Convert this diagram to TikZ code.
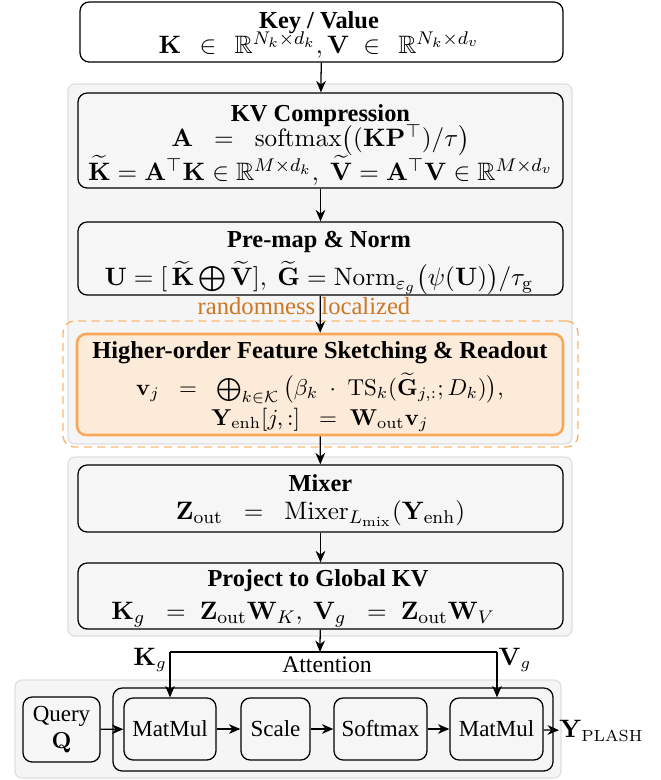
\documentclass[tikz,border=0pt]{standalone}
\usepackage{amsmath,amssymb}
\usepackage[no-math]{fontspec}
\setmainfont{Liberation Serif}
\usetikzlibrary{arrows.meta}
\definecolor{grpfill}{RGB}{245,245,245}
\definecolor{grpdraw}{RGB}{222,222,222}
\definecolor{boxfill}{RGB}{246,246,246}
\definecolor{orfill}{RGB}{253,235,217}
\definecolor{ordraw}{RGB}{249,168,88}
\definecolor{ordash}{RGB}{250,182,115}
\definecolor{ortext}{RGB}{204,119,34}
\newcommand{\ttlfont}{\fontsize{10.6}{12}\selectfont\bfseries}
\begin{document}
\begin{tikzpicture}[x=0.4348pt,y=-0.4348pt,
  wh/.style 2 args={minimum width=#1*0.4348pt,minimum height=#2*0.4348pt},
  grp/.style={draw=grpdraw,fill=grpfill,rounded corners=3pt,line width=0.5pt,inner sep=0pt},
  blk/.style={draw=black,fill=boxfill,rounded corners=4pt,line width=0.55pt,inner sep=0pt,align=center,font=\fontsize{10}{12}\selectfont},
  mblk/.style={blk,font=\fontsize{10.95}{12}\selectfont},
  hot/.style={blk,draw=ordraw,fill=orfill,line width=1.1pt},
  arr/.style={line width=0.55pt,-{Stealth[length=5pt,width=4.2pt,inset=1.6pt]}}
]
\useasboundingbox (0,0) rectangle (660,780);
% groups
\node[grp,wh={504}{360}] (g1) at (320,264) {};
\node[grp,wh={504}{179}] (g2) at (320,546.5) {};
\node[grp,wh={546}{98}] (g3) at (288,729) {};
\node[draw=ordash,dash pattern=on 3.5pt off 2.3pt,line width=0.6pt,rounded corners=5pt,wh={515}{126},inner sep=0pt] (zone) at (320.5,384) {};
% main blocks
\node[blk,fill=white,wh={483}{60}] (kv) at (321.5,32) {};
\node[mblk,fill=none,draw=none,inner sep=0pt] (kvt) at (319,35) {{\ttlfont Key / Value}\\[-1pt] $\mathbf{K}\,\;\in\;\,\mathbb{R}^{N_k\times d_k},\mathbf{V}\;\in\;\,\mathbb{R}^{N_k\times d_v}$};
\node[blk,wh={485}{95}] (comp) at (320.5,140.5) {};
\node[mblk,fill=none,draw=none] (compt) at (320.5,145) {{\ttlfont KV Compression}\\[-1pt] $\mathbf{A}\;\;=\;\;\mathrm{softmax}\big((\mathbf{K}\mathbf{P}^{\top})/\tau\big)$\\[-1pt] $\widetilde{\mathbf{K}}=\mathbf{A}^{\top}\mathbf{K}\in\mathbb{R}^{M\times d_k},\;\widetilde{\mathbf{V}}=\mathbf{A}^{\top}\mathbf{V}\in\mathbb{R}^{M\times d_v}$};
\node[blk,wh={485}{73}] (pre) at (320.5,258.5) {};
\node[mblk,fill=none,draw=none] (pret) at (319,263) {{\ttlfont Pre-map \& Norm}\\[2.5pt] $\mathbf{U}=[\,\widetilde{\mathbf{K}}\bigoplus\widetilde{\mathbf{V}}],\ \widetilde{\mathbf{G}}=\mathrm{Norm}_{\varepsilon_g}\big(\psi(\mathbf{U})\big)/\tau_{\mathrm{g}}$};
\node[hot,wh={486}{101}] (hos) at (320,384.5) {};
\node[blk,fill=none,draw=none] (host) at (320,386.5) {{\ttlfont Higher-order Feature Sketching \& Readout}\\[3pt] $\mathbf{v}_j\;\;=\;\;\bigoplus_{k\in\mathcal{K}}\big(\beta_k\;\cdot\;\mathrm{TS}_k(\widetilde{\mathbf{G}}_{j,:};D_k)\big),$\\[1pt] $\mathbf{Y}_{\mathrm{enh}}[j,:]\;\;=\;\mathbf{W}_{\mathrm{out}}\mathbf{v}_j$};
\node[blk,wh={485}{67}] (mix) at (320.5,498.5) {};
\node[mblk,fill=none,draw=none] (mixt) at (320.5,500.5) {{\ttlfont Mixer}\\[0pt] $\mathbf{Z}_{\mathrm{out}}\;\;=\;\;\mathrm{Mixer}_{L_{\mathrm{mix}}}(\mathbf{Y}_{\mathrm{enh}})$};
\node[blk,wh={485}{66}] (proj) at (320.5,596) {};
\node[mblk,fill=none,draw=none] (projt) at (318,598.5) {{\ttlfont Project to Global KV}\\[2.3pt] $\mathbf{K}_g\;\;=\;\mathbf{Z}_{\mathrm{out}}\mathbf{W}_K,\ \mathbf{V}_g\;\;=\;\mathbf{Z}_{\mathrm{out}}\mathbf{W}_V\hspace{13pt}$};
\node[font=\fontsize{10.7}{12}\selectfont,text=ortext,inner sep=0pt] (rl) at (304,306) {randomness localized};
% bottom attention block
\node[blk,fill=grpfill,wh={440}{83}] (attn) at (333,729.5) {};
\node[blk,wh={77}{65}] (q) at (61.5,729.5) {Query\\ $\mathbf{Q}$};
\node[blk,wh={92}{62}] (mm1) at (170,729) {MatMul};
\node[blk,wh={69}{62}] (sc) at (275.5,729) {Scale};
\node[blk,wh={93}{62}] (sm) at (380.5,729) {Softmax};
\node[blk,wh={93}{62}] (mm2) at (496.5,729) {MatMul};
\node[anchor=west,inner sep=0pt,font=\fontsize{10.5}{12}\selectfont] (y) at (559,731) {$\mathbf{Y}_{\mathrm{PLASH}}$};
\node[font=\fontsize{10.3}{12}\selectfont,inner sep=0pt] (att) at (327,665) {Attention};
\node[inner sep=0pt,font=\fontsize{10.5}{12}\selectfont] (kg) at (150,660) {$\mathbf{K}_g$};
\node[inner sep=0pt,font=\fontsize{10.5}{12}\selectfont] (vg) at (515,660) {$\mathbf{V}_g$};
\coordinate (split) at (320,652);
\coordinate (kl) at (170,652);
\coordinate (vr) at (497,652);
% arrows
\draw[arr] (kv) -- (comp);
\draw[arr] (comp) -- (pre);
\draw[arr] (pre) -- (hos);
\draw[arr] (hos) -- (mix);
\draw[arr] (mix) -- (proj);
\draw[arr] (proj) -- (split);
\draw[line width=0.55pt] (kl) -- (vr);
\draw[arr] (kl) -- (mm1);
\draw[arr] (vr) -- (vr |- mm2.north);
\draw[arr] (q) -- (mm1);
\draw[arr] (mm1) -- (sc);
\draw[arr] (sc) -- (sm);
\draw[arr] (sm) -- (mm2);
\draw[arr] (mm2) -- (y);
\end{tikzpicture}
\end{document}
